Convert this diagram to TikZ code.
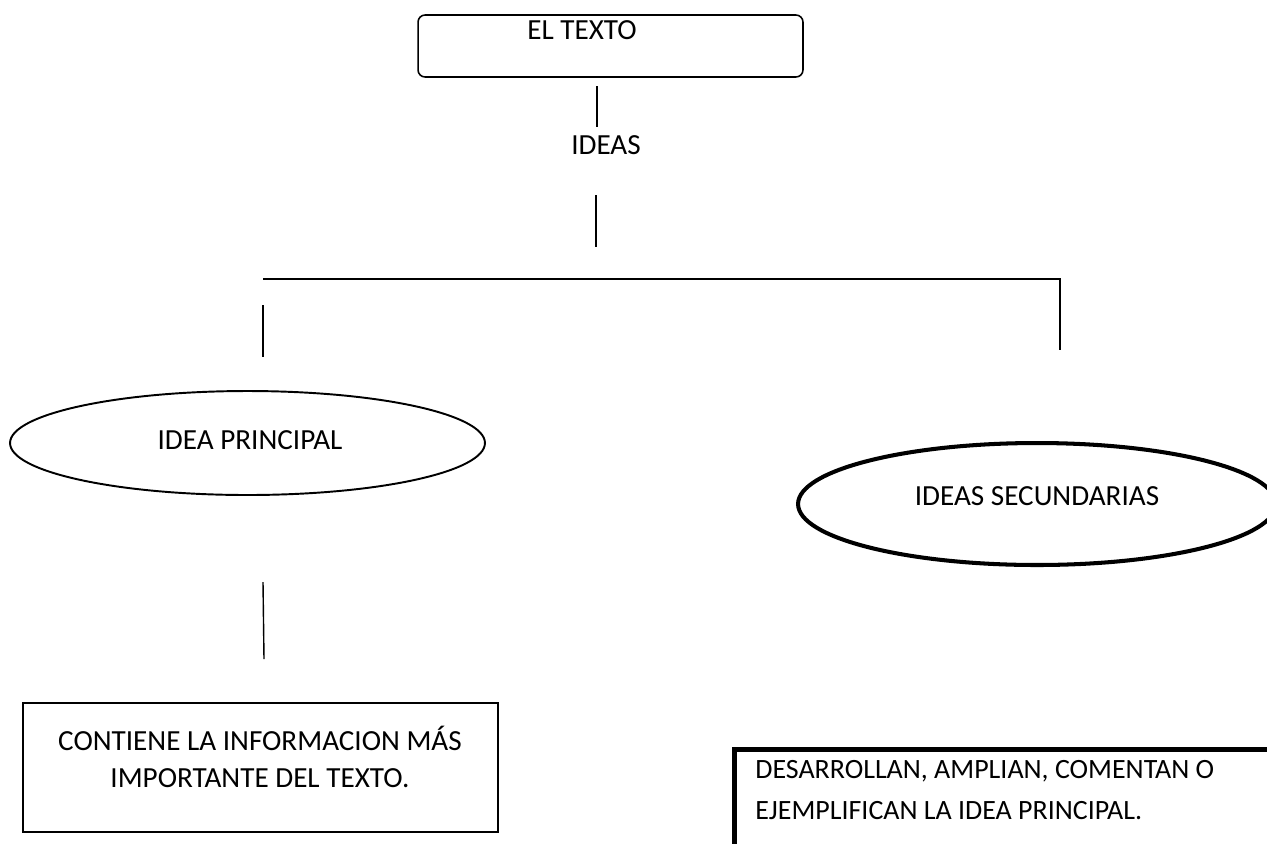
\documentclass[tikz,border=0pt]{standalone}
\usepackage{fontspec}
\setmainfont{Carlito}
\usetikzlibrary{positioning,shapes}

\begin{document}
\begin{tikzpicture}[x=0.02cm, y=-0.02cm,
    lbl/.style={font=\fontsize{16.6}{21}\selectfont, inner sep=0pt},
    link/.style={line width=0.8pt},
    titlebox/.style={draw, rounded corners=4pt, line width=0.9pt, minimum width=7.7cm, minimum height=1.24cm},
    ideabox/.style={draw, ellipse, inner sep=0pt}]
    \useasboundingbox (0,0) rectangle (1267,843);
    \clip (0,0) rectangle (1267,843);

    % Title box
    \node[titlebox] (texto) at (610.5,46) {};
    \node[lbl] (textoLbl) at (582,30) {EL TEXTO};

    % Ideas
    \coordinate (a1) at (597,86);
    \coordinate (a2) at (597,127);
    \draw[link] (a1) -- (a2);
    \node[lbl] (ideas) at (606,145) {IDEAS};
    \coordinate (b1) at (596,195);
    \coordinate (b2) at (596,247);
    \draw[link] (b1) -- (b2);

    % Branches
    \coordinate (c1) at (263,279);
    \coordinate (c2) at (1060,279);
    \coordinate (c3) at (1060,350);
    \draw[link] (c1) -- (c2) -- (c3);
    \coordinate (d1) at (263,305);
    \coordinate (d2) at (263,357);
    \draw[link] (d1) -- (d2);

    % Idea principal
    \node[ideabox, line width=1.1pt, minimum width=9.5cm, minimum height=2.08cm] (principal) at (247.5,443) {};
    \node[lbl] (principalLbl) at (250,440) {IDEA PRINCIPAL};
    \coordinate (e1) at (263,582);
    \coordinate (e2) at (264,659);
    \draw[link] (e1) -- (e2);
    \node[draw, line width=1.4pt, minimum width=9.5cm, minimum height=2.58cm] (contiene) at (260.5,767.5) {};
    \node[lbl, align=center] (contieneLbl) at (260,757) {CONTIENE LA INFORMACION MÁS\\IMPORTANTE DEL TEXTO.};

    % Ideas secundarias
    \node[ideabox, line width=2.3pt, minimum width=9.56cm, minimum height=2.44cm] (secundarias) at (1037,504) {};
    \node[lbl] (secundariasLbl) at (1037,496) {IDEAS SECUNDARIAS};
    \node[draw, line width=2.8pt, anchor=north west, minimum width=11.4cm, minimum height=2.8cm] (desarrollan) at (732,747) {};
    \node[lbl, font=\fontsize{15.9}{22.8}\selectfont, align=left, anchor=west] (desarrollanLbl) at (755,790) {DESARROLLAN, AMPLIAN, COMENTAN O\\EJEMPLIFICAN LA IDEA PRINCIPAL.};
\end{tikzpicture}
\end{document}
